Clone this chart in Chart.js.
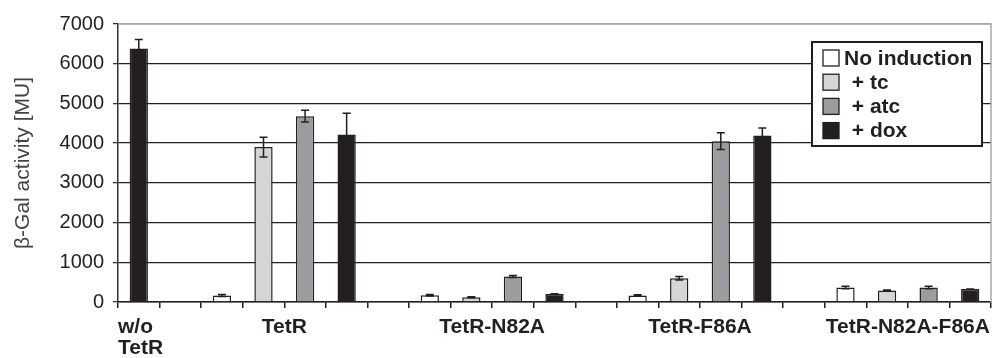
<!DOCTYPE html>
<html>
<head>
<meta charset="utf-8">
<script src="https://cdn.jsdelivr.net/npm/chart.js@4/dist/chart.umd.min.js"></script>
<style>
  html, body { margin: 0; padding: 0; background: #fff; }
  #wrap { width: 1000px; height: 358px; }
</style>
</head>
<body>
<div id="wrap"><canvas id="chart"></canvas></div>
<script>
// one slot per bar; empty slots are the gaps between groups
const slots = [
  "w/o TetR", "",
  "TetR", "TetR", "TetR", "TetR", "",
  "TetR-N82A", "TetR-N82A", "TetR-N82A", "TetR-N82A", "",
  "TetR-F86A", "TetR-F86A", "TetR-F86A", "TetR-F86A", "",
  "TetR-N82A-F86A", "TetR-N82A-F86A", "TetR-N82A-F86A", "TetR-N82A-F86A"
];
const groupNames = ["w/o TetR", "TetR", "TetR-N82A", "TetR-F86A", "TetR-N82A-F86A"];
const yTicks = [0, 1000, 2000, 3000, 4000, 5000, 6000, 7000];

const _ = null;
const woTetR      = [6380, _, _, _, _, _, _, _, _, _, _, _, _, _, _, _, _, _, _, _, _];
const woTetRErr   = [230,  _, _, _, _, _, _, _, _, _, _, _, _, _, _, _, _, _, _, _, _];
const noInduction = [_, _, 165, _, _, _, _, 170, _, _, _, _, 165, _, _, _, _, 365, _, _, _];
const noIndErr    = [_, _, 25, _, _, _, _, 20, _, _, _, _, 20, _, _, _, _, 30, _, _, _];
const plusTc      = [_, _, _, 3900, _, _, _, _, 120, _, _, _, _, 600, _, _, _, _, 290, _, _];
const plusTcErr   = [_, _, _, 250, _, _, _, _, 15, _, _, _, _, 45, _, _, _, _, 15, _, _];
const plusAtc     = [_, _, _, _, 4680, _, _, _, _, 640, _, _, _, _, 4050, _, _, _, _, 365, _];
const plusAtcErr  = [_, _, _, _, 150, _, _, _, _, 25, _, _, _, _, 210, _, _, _, _, 30, _];
const plusDox     = [_, _, _, _, _, 4220, _, _, _, _, 210, _, _, _, _, 4190, _, _, _, _, 330];
const plusDoxErr  = [_, _, _, _, _, 530, _, _, _, _, 0, _, _, _, _, 190, _, _, _, _, 0];

const FONT = "'Liberation Sans', Arial, Helvetica, sans-serif";
const WHITE = "#ffffff", LIGHT = "#d3d5d7", GREY = "#9b9c9f", BLACK = "#231f20";

function barSet(label, data, errors, color, legend) {
  return {
    label, data, errors, legend,
    backgroundColor: color,
    borderColor: BLACK,
    borderWidth: 1.5,
    grouped: false,
    barPercentage: 0.44,
    categoryPercentage: 1.0,
  };
}

const errorBars = {
  id: "errorBars",
  afterDatasetsDraw(chart) {
    const { ctx, scales: { y } } = chart;
    ctx.save();
    ctx.strokeStyle = BLACK;
    ctx.lineWidth = 1.5;
    chart.data.datasets.forEach((ds, di) => {
      const meta = chart.getDatasetMeta(di);
      ds.data.forEach((v, i) => {
        if (v == null || !ds.errors || ds.errors[i] == null) return;
        const x = meta.data[i].x;
        const top = y.getPixelForValue(v + ds.errors[i]);
        const bot = y.getPixelForValue(Math.max(0, v - ds.errors[i]));
        ctx.beginPath();
        ctx.moveTo(x, top); ctx.lineTo(x, bot);
        ctx.moveTo(x - 4, top); ctx.lineTo(x + 4, top);
        ctx.moveTo(x - 4, bot); ctx.lineTo(x + 4, bot);
        ctx.stroke();
      });
    });
    ctx.restore();
  }
};

const frame = {
  id: "frame",
  beforeDatasetsDraw(chart) {
    const { ctx, chartArea: a } = chart;
    ctx.save();
    ctx.strokeStyle = "#a8a8a8";
    ctx.lineWidth = 1.5;
    ctx.beginPath();
    ctx.moveTo(a.left, a.top); ctx.lineTo(a.right, a.top); ctx.lineTo(a.right, a.bottom);
    ctx.stroke();
    ctx.restore();
  }
};

const groupLabels = {
  id: "groupLabels",
  afterDraw(chart) {
    const { ctx, scales: { x } } = chart;
    ctx.save();
    ctx.font = "bold 21px " + FONT;
    ctx.fillStyle = BLACK;
    ctx.textBaseline = "middle";
    groupNames.forEach(name => {
      const first = slots.indexOf(name), last = slots.lastIndexOf(name);
      if (first === last) {
        // single-bar group: wrapped, left-aligned at the slot edge
        const half = (x.getPixelForValue(1) - x.getPixelForValue(0)) / 2;
        ctx.textAlign = "left";
        name.split(" ").forEach((w, k) => ctx.fillText(w, x.getPixelForValue(first) - half, 327 + k * 21));
      } else {
        ctx.textAlign = "center";
        ctx.fillText(name, (x.getPixelForValue(first) + x.getPixelForValue(last)) / 2, 327);
      }
    });
    ctx.restore();
  }
};

const boxLegend = {
  id: "boxLegend",
  afterDraw(chart) {
    const { ctx } = chart;
    const items = chart.data.datasets.filter(d => d.legend);
    const left = 812, top = 42, w = 170, h = 104;
    ctx.save();
    ctx.fillStyle = "#fff";
    ctx.fillRect(left, top, w, h);
    ctx.strokeStyle = BLACK;
    ctx.lineWidth = 2;
    ctx.strokeRect(left, top, w, h);
    ctx.font = "bold 21px " + FONT;
    ctx.textBaseline = "middle";
    items.forEach((d, i) => {
      const yy = 50 + i * 24.2;
      ctx.fillStyle = d.backgroundColor;
      ctx.fillRect(823, yy, 16, 16);
      ctx.strokeStyle = BLACK;
      ctx.lineWidth = 1.3;
      ctx.strokeRect(823, yy, 16, 16);
      ctx.fillStyle = BLACK;
      ctx.fillText(i === 0 ? d.label : " " + d.label, i === 0 ? 844 : 846, yy + 9);
    });
    ctx.restore();
  }
};

new Chart(document.getElementById("chart"), {
  type: "bar",
  data: {
    labels: slots,
    datasets: [
      barSet("w/o TetR", woTetR, woTetRErr, BLACK, false),
      barSet("No induction", noInduction, noIndErr, WHITE, true),
      barSet("+ tc", plusTc, plusTcErr, LIGHT, true),
      barSet("+ atc", plusAtc, plusAtcErr, GREY, true),
      barSet("+ dox", plusDox, plusDoxErr, BLACK, true),
    ],
  },
  options: {
    responsive: true,
    maintainAspectRatio: false,
    animation: false,
    layout: { padding: { left: 0, right: 9, top: 24, bottom: 0 } },
    plugins: { legend: { display: false }, tooltip: { enabled: false } },
    scales: {
      x: {
        offset: true,
        afterFit(scale) { scale.height = 56; },
        border: { display: true, color: BLACK, width: 1.5 },
        grid: { offset: true, drawOnChartArea: false, drawTicks: true, tickLength: 6, color: BLACK, lineWidth: 1.5 },
        ticks: { callback: () => "", autoSkip: false, maxRotation: 0 },
      },
      y: {
        min: 0,
        max: 7000,
        afterFit(scale) { scale.width = 118; },
        afterBuildTicks(scale) { scale.ticks = yTicks.map(v => ({ value: v })); },
        border: { display: true, color: "#333", width: 1.5 },
        grid: {
          color: ctx => ctx.tick && ctx.tick.value === 7000 ? "#a8a8a8" : "#231f20",
          lineWidth: 1.3,
          tickLength: 5,
          tickColor: "#333",
        },
        ticks: {
          padding: 9,
          color: BLACK,
          font: { family: FONT, size: 20 },
          callback: v => String(v),
        },
        title: {
          display: true,
          text: "β-Gal activity [MU]",
          color: "#444",
          font: { family: FONT, size: 21 },
          padding: { top: 11, bottom: 0 },
        },
      },
    },
  },
  plugins: [frame, errorBars, groupLabels, boxLegend],
});
</script>
</body>
</html>
